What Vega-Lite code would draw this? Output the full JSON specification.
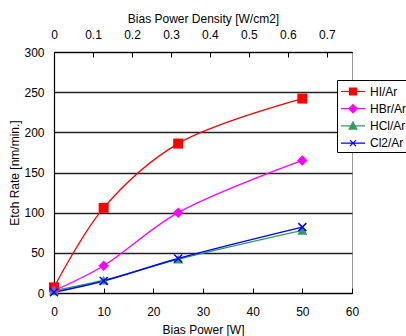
{
  "$schema": "https://vega.github.io/schema/vega-lite/v6.json",
  "width": 298,
  "height": 241,
  "autosize": "none",
  "padding": {"left": 54, "top": 52, "right": 54, "bottom": 43},
  "config": {
    "font": "Liberation Sans",
    "view": {"stroke": "#999", "strokeWidth": 1},
    "axis": {
      "labelFontSize": 12,
      "titleFontSize": 12,
      "titleFontWeight": "normal",
      "labelColor": "#000",
      "titleColor": "#000",
      "domainColor": "#000",
      "domainWidth": 1.2,
      "tickColor": "#000",
      "labelFlush": false
    }
  },
  "data": {
    "values": [
      {"series": "HI/Ar", "power": 0, "density": 0, "rate": 7},
      {"series": "HI/Ar", "power": 10, "density": 0.1274, "rate": 106},
      {"series": "HI/Ar", "power": 25, "density": 0.3185, "rate": 186},
      {"series": "HI/Ar", "power": 50, "density": 0.6369, "rate": 242},
      {"series": "HBr/Ar", "power": 0, "density": 0, "rate": 3},
      {"series": "HBr/Ar", "power": 10, "density": 0.1274, "rate": 34},
      {"series": "HBr/Ar", "power": 25, "density": 0.3185, "rate": 100},
      {"series": "HBr/Ar", "power": 50, "density": 0.6369, "rate": 165},
      {"series": "HCl/Ar", "power": 0, "density": 0, "rate": 3},
      {"series": "HCl/Ar", "power": 10, "density": 0.1274, "rate": 16},
      {"series": "HCl/Ar", "power": 25, "density": 0.3185, "rate": 42},
      {"series": "HCl/Ar", "power": 50, "density": 0.6369, "rate": 78},
      {"series": "Cl2/Ar", "power": 0, "density": 0, "rate": 1},
      {"series": "Cl2/Ar", "power": 10, "density": 0.1274, "rate": 15},
      {"series": "Cl2/Ar", "power": 25, "density": 0.3185, "rate": 43},
      {"series": "Cl2/Ar", "power": 50, "density": 0.6369, "rate": 82}
    ]
  },
  "layer": [
    {
      "encoding": {
        "x": {
          "field": "power", "type": "quantitative",
          "scale": {"domain": [0, 60], "nice": false},
          "axis": {"orient": "bottom", "values": [0, 10, 20, 30, 40, 50, 60], "tickSize": -5, "labelPadding": 18, "title": "Bias Power [W]", "titlePadding": 7, "grid": false}
        },
        "y": {
          "field": "rate", "type": "quantitative",
          "scale": {"domain": [0, 300], "nice": false},
          "axis": {"values": [0, 50, 100, 150, 200, 250, 300], "ticks": false, "labelPadding": 10, "grid": true, "gridColor": "#222", "gridWidth": 1.3, "title": "Etch Rate [nm/min.]", "titlePadding": 2}
        }
      },
      "layer": [
        {
          "transform": [{"filter": "datum.series == 'HI/Ar'"}],
          "mark": {"type": "line", "interpolate": "catmull-rom", "strokeWidth": 1.3, "color": "#FF0000"},
          "encoding": {}
        },
        {
          "transform": [{"filter": "datum.series == 'HBr/Ar'"}],
          "mark": {"type": "line", "interpolate": "catmull-rom", "strokeWidth": 1.3, "color": "#FF00FF"},
          "encoding": {}
        },
        {
          "transform": [{"filter": "datum.series == 'HCl/Ar'"}],
          "mark": {"type": "line", "interpolate": "catmull-rom", "strokeWidth": 1.3, "color": "#339966"},
          "encoding": {}
        },
        {
          "transform": [{"filter": "datum.series == 'Cl2/Ar'"}],
          "mark": {"type": "line", "interpolate": "catmull-rom", "strokeWidth": 1.5, "color": "#0000FF"},
          "encoding": {}
        },
        {
          "transform": [{"filter": "datum.series == 'HI/Ar'"}],
          "mark": {"type": "point", "shape": "square", "filled": true, "size": 100, "color": "#FF0000", "opacity": 1},
          "encoding": {}
        },
        {
          "transform": [{"filter": "datum.series == 'HBr/Ar'"}],
          "mark": {"type": "point", "shape": "diamond", "filled": true, "size": 110, "color": "#FF00FF", "opacity": 1},
          "encoding": {}
        },
        {
          "transform": [{"filter": "datum.series == 'HCl/Ar'"}],
          "mark": {"type": "point", "shape": "triangle-up", "filled": true, "size": 100, "color": "#339966", "opacity": 1},
          "encoding": {}
        },
        {
          "transform": [{"filter": "datum.series == 'Cl2/Ar'"}],
          "mark": {"type": "point", "shape": "M-1,-1L1,1M-1,1L1,-1", "filled": false, "size": 64, "strokeWidth": 1.5, "color": "#0000FF", "opacity": 1},
          "encoding": {}
        },
        {
          "mark": {"type": "point", "size": 0, "strokeWidth": 1.2},
          "encoding": {
            "fill": {"field": "series", "type": "nominal", "scale": {"domain": ["HI/Ar", "HBr/Ar", "HCl/Ar", "Cl2/Ar"], "range": ["#FF0000", "#FF00FF", "#339966", "#0000FF"]},
              "legend": {"title": null, "orient": "none", "legendX": 283, "legendY": 28, "strokeColor": "#000", "fillColor": "#fff", "padding": 2, "rowPadding": 1.2, "symbolSize": 289, "symbolOffset": 4.5, "labelOffset": 7.5, "labelFontSize": 12, "labelColor": "#000", "symbolStrokeWidth": 1.2, "symbolOpacity": 1}},
            "stroke": {"field": "series", "type": "nominal", "scale": {"domain": ["HI/Ar", "HBr/Ar", "HCl/Ar", "Cl2/Ar"], "range": ["#FF0000", "#FF00FF", "#339966", "#0000FF"]},
              "legend": {"title": null, "orient": "none", "legendX": 283, "legendY": 28, "strokeColor": "#000", "fillColor": "#fff", "padding": 2, "rowPadding": 1.2, "symbolSize": 289, "symbolOffset": 4.5, "labelOffset": 7.5, "labelFontSize": 12, "labelColor": "#000", "symbolStrokeWidth": 1.2, "symbolOpacity": 1}},
            "shape": {"field": "series", "type": "nominal", "scale": {"domain": ["HI/Ar", "HBr/Ar", "HCl/Ar", "Cl2/Ar"], "range": [
              "M-1.41,0H1.41M-0.41,-0.41H0.41V0.41H-0.41Z",
              "M-1.41,0H1.41M0,-0.48L0.48,0L0,0.48L-0.48,0Z",
              "M-1.41,0H1.41M0,-0.45L0.45,0.37H-0.45Z",
              "M-1.41,0H1.41M-0.35,-0.35L0.35,0.35M-0.35,0.35L0.35,-0.35"
            ]},
              "legend": {"title": null, "orient": "none", "legendX": 283, "legendY": 28, "strokeColor": "#000", "fillColor": "#fff", "padding": 2, "rowPadding": 1.2, "symbolSize": 289, "symbolOffset": 4.5, "labelOffset": 7.5, "labelFontSize": 12, "labelColor": "#000", "symbolStrokeWidth": 1.2, "symbolOpacity": 1}}
          }
        }
      ]
    },
    {
      "mark": {"type": "point", "opacity": 0},
      "encoding": {
        "x": {
          "field": "density", "type": "quantitative",
          "scale": {"domain": [0, 0.7643], "nice": false},
          "axis": {"orient": "top", "values": [0, 0.1, 0.2, 0.3, 0.4, 0.5, 0.6, 0.7], "format": ".1~f", "tickSize": -5, "labelPadding": 16, "title": "Bias Power Density [W/cm2]", "titlePadding": 3, "grid": false}
        }
      }
    }
  ],
  "resolve": {"scale": {"x": "independent"}}
}
